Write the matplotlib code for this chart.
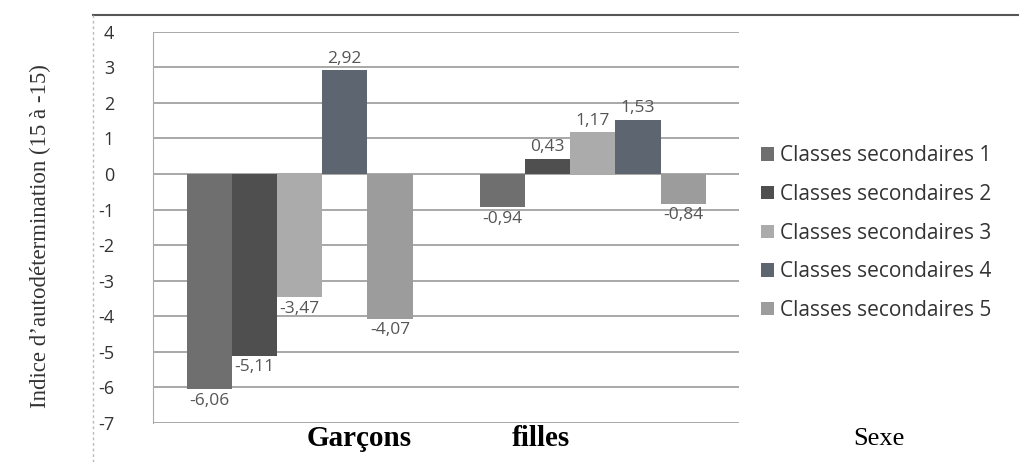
import numpy as np
import matplotlib.pyplot as plt
from matplotlib.lines import Line2D

groups = ["Garçons", "filles"]
series = ["Classes secondaires 1", "Classes secondaires 2", "Classes secondaires 3",
          "Classes secondaires 4", "Classes secondaires 5"]
values = [
    [-6.06, -0.94],
    [-5.11, 0.43],
    [-3.47, 1.17],
    [2.92, 1.53],
    [-4.07, -0.84],
]
colors = ["#6f6f6f", "#4f4f4f", "#ababab", "#5d6670", "#9c9c9c"]

fig = plt.figure(figsize=(10.2, 4.62), dpi=100)
ax = fig.add_axes([0.15, 0.085, 0.575, 0.846])

x = np.arange(len(groups))
width = 0.154
for i, (name, vals) in enumerate(zip(series, values)):
    pos = x + (i - 2) * width
    ax.bar(pos, vals, width, color=colors[i], label=name, zorder=3)
    for p, v in zip(pos, vals):
        txt = f"{v:.2f}".replace(".", ",")
        if v < 0:
            ax.text(p, v - 0.1, txt, ha="center", va="top", fontsize=12.5,
                    color="#555555", family="Open Sans", zorder=4)
        else:
            ax.text(p, v + 0.1, txt, ha="center", va="bottom", fontsize=12.5,
                    color="#555555", family="Open Sans", zorder=4)

ax.set_xlim(-0.5, 1.5)
ax.set_ylim(-7, 4)
ax.set_yticks(range(-7, 5))
ax.set_yticklabels([str(t) for t in range(-7, 5)], family="Open Sans",
                   fontsize=13, color="#333333")
ax.tick_params(axis="y", length=0, pad=28)
ax.set_xticks([])
ax.grid(axis="y", color="#9a9a9a", linewidth=1.2, zorder=0)
for s in ["top", "right", "bottom"]:
    ax.spines[s].set_visible(False)
ax.spines["left"].set_color("#aaaaaa")
ax.axhline(-7, xmin=0, xmax=0.03, color="#aaaaaa", linewidth=1)

# category labels sit off-centre in the original
label_x = [0.352, 0.53]
for lx, g in zip(label_x, groups):
    fig.text(lx, 0.05, g, ha="center", va="center", family="Liberation Serif",
             fontweight="bold", fontsize=21)
fig.text(0.862, 0.05, "Sexe", ha="center", va="center",
         family="Liberation Serif", fontsize=19)

fig.text(0.04, 0.49, "Indice d’autodétermination (15 à -15)", rotation=90,
         ha="center", va="center", family="Liberation Serif", fontsize=16.5,
         color="#333333")

# scan frame lines
fig.add_artist(Line2D([0.091, 1.0], [0.968, 0.968], color="#555555", linewidth=1.5))
fig.add_artist(Line2D([0.091, 0.091], [0.0, 0.968], color="#bbbbbb", linewidth=1,
                      linestyle=(0, (2, 2))))

ax.legend(loc="center left", bbox_to_anchor=(1.005, 0.485), frameon=False,
          prop={"family": "Open Sans", "size": 15}, handlelength=0.6,
          handleheight=0.6, handletextpad=0.3, labelspacing=0.85,
          labelcolor="#333333")

fig.savefig("out.png", dpi=100)
